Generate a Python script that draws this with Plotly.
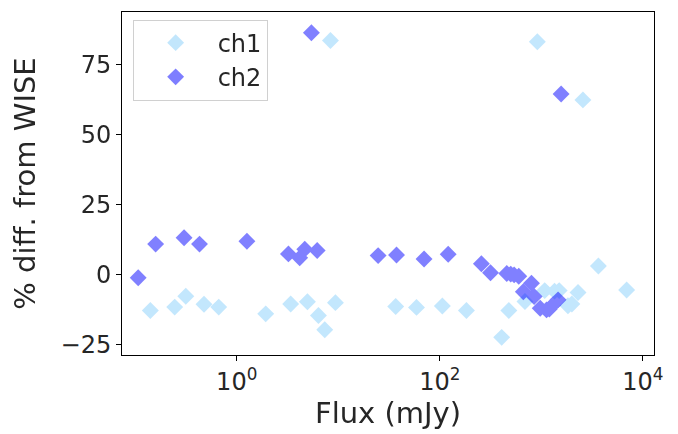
import plotly.graph_objects as go

# flux (mJy) and % difference from WISE
ch1_flux = [0.141, 0.245, 0.315, 0.476, 0.665, 1.93, 3.4, 4.97, 6.38, 7.36, 8.38, 9.38,
            36.8, 59, 106, 183, 407, 479, 690, 914, 1080, 1350, 1500, 1830, 2000, 2300,
            2570, 3650, 6930]
ch1_diff = [-12.7, -11.5, -7.6, -10.5, -11.5, -13.9, -10.4, -9.6, -14.5, -19.6, 83.7, -9.9,
            -11.3, -11.6, -11.1, -12.7, -22.3, -12.7, -9.5, 83.3, -5.6, -5.8, -5.6, -11.0,
            -10.4, -6.3, 62.5, 3.2, -5.4]

ch2_flux = [0.107, 0.159, 0.303, 0.43, 1.26, 3.23, 4.17, 4.68, 5.44, 6.2, 24.7, 37.5, 70,
            121, 257, 316, 457, 500, 540, 600, 665, 800, 850, 975, 1126, 1200, 1300, 1463,
            1567]
ch2_diff = [-1.0, 11.0, 13.3, 11.0, 12.0, 7.5, 6.1, 9.2, 86.5, 8.7, 6.9, 7.1, 5.7,
            7.4, 4.0, 0.8, 0.5, 0.3, 0.0, -0.5, -6.0, -3.0, -7.7, -11.9, -12.5, -12.2, -10.7,
            -8.9, 64.6]

y_ticks = [-25, 0, 25, 50, 75]
y_ticktext = ['−25', '0', '25', '50', '75']
x_ticks = [1, 100, 10000]
x_ticktext = ['10<sup>0</sup>', '10<sup>2</sup>', '10<sup>4</sup>']

fig = go.Figure()
fig.add_trace(go.Scatter(x=ch1_flux, y=ch1_diff, name='ch1', mode='markers', opacity=0.5,
                         marker=dict(symbol='diamond', size=13, color='#87CEFA', line=dict(width=0))))
fig.add_trace(go.Scatter(x=ch2_flux, y=ch2_diff, name='ch2', mode='markers', opacity=0.5,
                         marker=dict(symbol='diamond', size=13, color='blue', line=dict(width=0))))

# page body has an 8px margin, so the figure is a bit smaller than the window
font = dict(family='DejaVu Sans', size=24, color='#262626')
fig.update_layout(width=670, height=426, paper_bgcolor='white', plot_bgcolor='white',
                  font=font, margin=dict(l=114, r=24, t=4, b=79),
                  legend=dict(x=0.02, y=0.978, xanchor='left', yanchor='top',
                              bgcolor='white', bordercolor='#d0d0d0', borderwidth=1,
                              font=dict(size=24), itemwidth=74))
fig.update_xaxes(type='log', range=[-1.13, 4.11], tickvals=x_ticks, ticktext=x_ticktext,
                 ticks='outside', ticklen=5, tickcolor='black', showgrid=False, zeroline=False,
                 showline=True, mirror=True, linecolor='black', linewidth=1, automargin=False,
                 tickfont=dict(size=24), title=dict(text='Flux (mJy)', standoff=6))
fig.update_yaxes(range=[-28.6, 93.9], tickvals=y_ticks, ticktext=y_ticktext,
                 ticks='outside', ticklen=5, tickcolor='black', showgrid=False, zeroline=False,
                 showline=True, mirror=True, linecolor='black', linewidth=1, automargin=False,
                 tickfont=dict(size=24), title=dict(text='% diff. from WISE', standoff=20))

fig.write_html("out.html")
